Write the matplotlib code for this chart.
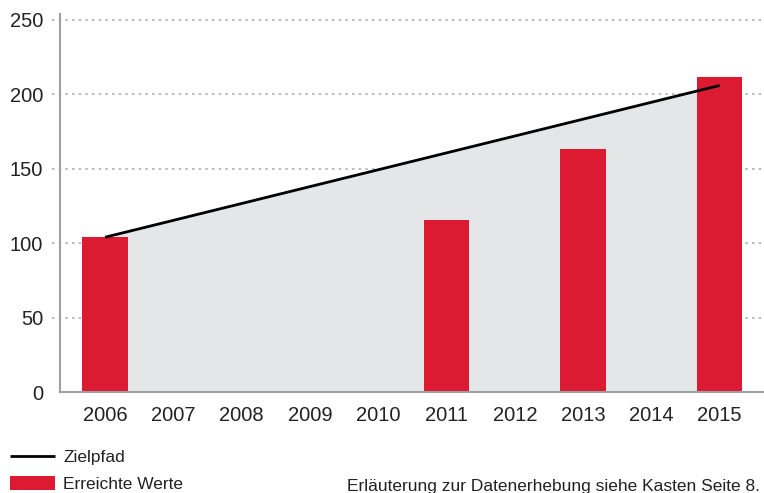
import matplotlib
matplotlib.use("Agg")
import matplotlib.pyplot as plt
import matplotlib.transforms as mtransforms
import numpy as np

plt.rcParams['font.family'] = ['Liberation Sans', 'DejaVu Sans']

years = ["2006", "2007", "2008", "2009", "2010", "2011", "2012", "2013", "2014", "2015"]
achieved = [104, None, None, None, None, 115.5, None, 163.5, None, 212]
target_years = ["2006", "2015"]
target_values = [104, 206]
yticks = [0, 50, 100, 150, 200, 250]

RED = "#dc1a32"
GREY_FILL = "#e5e6e8"
TEXT = "#222222"

W, H = 764, 493
fig = plt.figure(figsize=(W / 100, H / 100), dpi=100)
ax = fig.add_axes([60 / W, 1 - 392 / H, (W - 60) / W, (392 - 14) / H])

x = np.arange(len(years))
tx = [years.index(t) for t in target_years]

ax.fill_between(tx, 0, target_values, color=GREY_FILL, linewidth=0, zorder=1)

bx = [i for i, v in enumerate(achieved) if v is not None]
bv = [v for v in achieved if v is not None]
bars = ax.bar(bx, bv, width=0.67, color=RED, zorder=3, label="Erreichte Werte")
line, = ax.plot(tx, target_values, color="black", lw=2, zorder=4,
                solid_capstyle="butt", label="Zielpfad")

ax.set_xlim(-0.66, 9.65)
ax.set_ylim(0, 254)

# grid lines extending slightly left of the axis
trans = mtransforms.blended_transform_factory(ax.transAxes, ax.transData)
for yv in yticks[1:]:
    ax.plot([-0.012, 1], [yv, yv], transform=trans, color="#b0b0b0", lw=1.2,
            linestyle=(0, (1.5, 2.5)), clip_on=False, zorder=0.5)

for s in ["top", "right"]:
    ax.spines[s].set_visible(False)
for s in ["left", "bottom"]:
    ax.spines[s].set_color("#a0a0a0")
    ax.spines[s].set_linewidth(1.5)
    ax.spines[s].set_zorder(5)

ax.set_xticks(x)
ax.set_xticklabels(years)
ax.set_yticks(yticks)
ax.tick_params(axis="both", length=0, labelsize=14.5, colors=TEXT)
ax.tick_params(axis="x", pad=10)
ax.tick_params(axis="y", pad=12)

leg = fig.legend(handles=[line, bars], labels=["Zielpfad", "Erreichte Werte"],
                 loc="upper left", bbox_to_anchor=(5 / W, 1 - 444 / H),
                 frameon=False, fontsize=12.5, handlelength=2.6, handleheight=0.9,
                 handletextpad=0.45, labelspacing=0.6, borderaxespad=0, borderpad=0.3)
for t in leg.get_texts():
    t.set_color(TEXT)

fig.text(760 / W, 1 - 487 / H, "Erläuterung zur Datenerhebung siehe Kasten Seite 8.",
         ha="right", va="center", fontsize=12.5, color=TEXT)

fig.savefig("out.png", dpi=100)
